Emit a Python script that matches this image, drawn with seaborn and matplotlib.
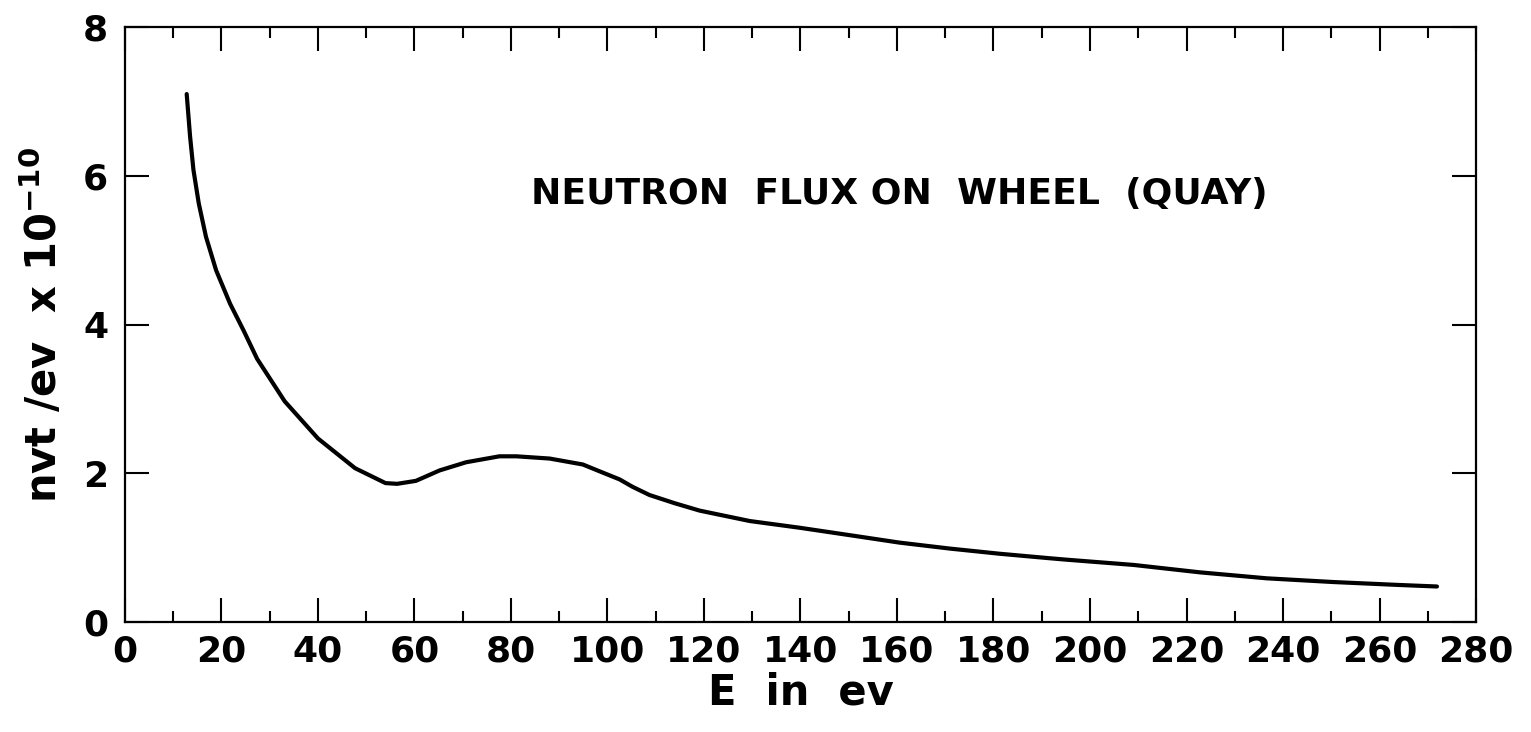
import numpy as np
import pandas as pd
import seaborn as sns
import matplotlib.pyplot as plt
from matplotlib.ticker import MultipleLocator

# Werte
energie = [12.8, 13.5, 14.2, 15.3, 16.8, 18.9, 21.8, 24.6, 27.4, 33.1, 40.0,
           47.7, 54.0, 56.4, 60.3, 65.2, 70.7, 77.6, 81.1, 88.0, 94.9, 98.3,
           102.5, 105.2, 108.7, 113.9, 119.1, 129.5, 139.8, 150.2, 160.5,
           170.9, 181.3, 191.6, 195.2, 209.0, 222.8, 236.6, 250.4, 264.2, 271.9]
fluss = [7.10, 6.53, 6.08, 5.63, 5.18, 4.73, 4.28, 3.92, 3.54, 2.97, 2.47,
         2.07, 1.87, 1.86, 1.90, 2.04, 2.15, 2.23, 2.23, 2.20, 2.12, 2.03,
         1.92, 1.82, 1.71, 1.60, 1.50, 1.36, 1.27, 1.17, 1.07,
         0.99, 0.92, 0.86, 0.84, 0.77, 0.67, 0.59, 0.54, 0.50, 0.48]

x_ticks = list(range(0, 281, 20))
y_ticks = [0, 2, 4, 6, 8]
titel = "NEUTRON  FLUX ON  WHEEL  (QUAY)"

df = pd.DataFrame({"E": energie, "flux": fluss})

sns.set_theme(style="ticks")
plt.rcParams['font.family'] = ['DejaVu Sans']
plt.rcParams['font.weight'] = 'bold'
plt.rcParams['text.color'] = 'black'
plt.rcParams['axes.labelcolor'] = 'black'
plt.rcParams['xtick.color'] = 'black'
plt.rcParams['ytick.color'] = 'black'

fig = plt.figure(figsize=(15.31, 7.32), dpi=100)
ax = fig.add_axes([0.0816, 0.150, 0.8825, 0.813])

sns.lineplot(data=df, x="E", y="flux", ax=ax, color="black", linewidth=3)

ax.set_xlim(0, 280)
ax.set_ylim(0, 8)
ax.set_xticks(x_ticks)
ax.set_yticks(y_ticks)
ax.xaxis.set_minor_locator(MultipleLocator(10))

ax.tick_params(axis="x", which="major", direction="in", length=17, width=1.5,
               top=True, labelsize=26, pad=9, colors="black")
ax.tick_params(axis="x", which="minor", direction="in", length=8, width=1.5,
               top=True, colors="black")
ax.tick_params(axis="y", which="major", direction="in", length=17, width=1.5,
               right=True, labelsize=26, pad=12, colors="black")
for lab in ax.get_xticklabels() + ax.get_yticklabels():
    lab.set_fontweight("bold")

for sp in ax.spines.values():
    sp.set_linewidth(1.6)
    sp.set_color("black")

ax.set_xlabel("E  in  ev", fontsize=30, fontweight="bold", labelpad=2, color="black")
ax.set_ylabel(r"nvt /ev  x $\mathbf{10^{-10}}$", fontsize=30, fontweight="bold",
              labelpad=12, color="black")

ax.text(160.5, 5.75, titel, ha="center", va="center", fontsize=26,
        fontweight="bold", color="black")

fig.savefig("out.png", dpi=100)
